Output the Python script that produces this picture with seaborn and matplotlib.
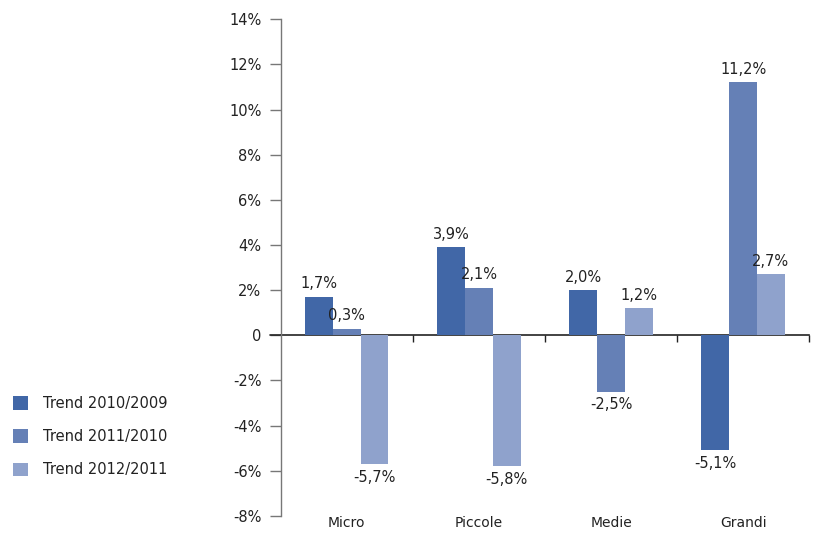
import pandas as pd
import matplotlib
matplotlib.use("Agg")
import matplotlib.pyplot as plt
import seaborn as sns

# Dati
categorie = ["Micro", "Piccole", "Medie", "Grandi"]
serie = ["Trend 2010/2009", "Trend 2011/2010", "Trend 2012/2011"]
trend_2010 = [1.7, 3.9, 2.0, -5.1]
trend_2011 = [0.3, 2.1, -2.5, 11.2]
trend_2012 = [-5.7, -5.8, 1.2, 2.7]
y_ticks = [-8, -6, -4, -2, 0, 2, 4, 6, 8, 10, 12, 14]

colori = ["#4167A7", "#6580B6", "#8FA2CC"]

df = pd.DataFrame({
    "categoria": categorie * 3,
    "serie": [serie[0]] * 4 + [serie[1]] * 4 + [serie[2]] * 4,
    "valore": trend_2010 + trend_2011 + trend_2012,
})

sns.set_style("white")
plt.rcParams["font.family"] = ["DejaVu Sans"]
testo = "#222222"

fig = plt.figure(figsize=(8.14, 5.33), dpi=100)
ax = fig.add_axes([0.345, 0.032, 0.649, 0.932])

sns.barplot(data=df, x="categoria", y="valore", hue="serie", order=categorie,
            hue_order=serie, palette=colori, width=0.63, saturation=1,
            linewidth=0, edgecolor="none", ax=ax, legend=True)

# Etichette sui bar
for cont in ax.containers:
    etichette = [f"{b.get_height():.1f}%".replace(".", ",") for b in cont]
    ax.bar_label(cont, labels=etichette, padding=4, fontsize=10.5, color=testo)

ax.set_xlim(-0.5, 3.5)
ax.set_ylim(-8, 14)
ax.set_yticks(y_ticks)
ax.set_yticklabels(["0" if v == 0 else f"{v}%" for v in y_ticks], fontsize=10.5, color=testo)
ax.tick_params(axis="y", direction="out", length=8, width=1, color="#777777", left=True, pad=6)
ax.tick_params(axis="x", length=0, labelsize=10, labelcolor=testo, pad=0)
ax.set_xlabel("")
ax.set_ylabel("")

for lato in ["top", "right", "bottom"]:
    ax.spines[lato].set_visible(False)
ax.spines["left"].set_color("#777777")
ax.spines["left"].set_linewidth(1)

# Linea dello zero con tacche tra le categorie
asse_zero = ax.secondary_xaxis(8 / 22)
asse_zero.set_xticks([0.5, 1.5, 2.5, 3.5])
asse_zero.set_xticklabels([])
asse_zero.tick_params(direction="out", length=5, width=1, color="#222222")
asse_zero.spines["bottom"].set_color("#222222")
asse_zero.spines["bottom"].set_linewidth(1.2)
ax.axhline(0, xmin=-0.02, xmax=0, color="#222222", lw=1.2, clip_on=False)

# Legenda a sinistra
handles, labels = ax.get_legend_handles_labels()
ax.get_legend().remove()
fig.legend(handles, labels, loc="upper left", bbox_to_anchor=(0.0, 0.282),
           frameon=False, fontsize=10.5, handlelength=1.05, handleheight=1.05,
           handletextpad=1.0, labelspacing=1.25, labelcolor=testo)

plt.savefig("out.png", dpi=100)
